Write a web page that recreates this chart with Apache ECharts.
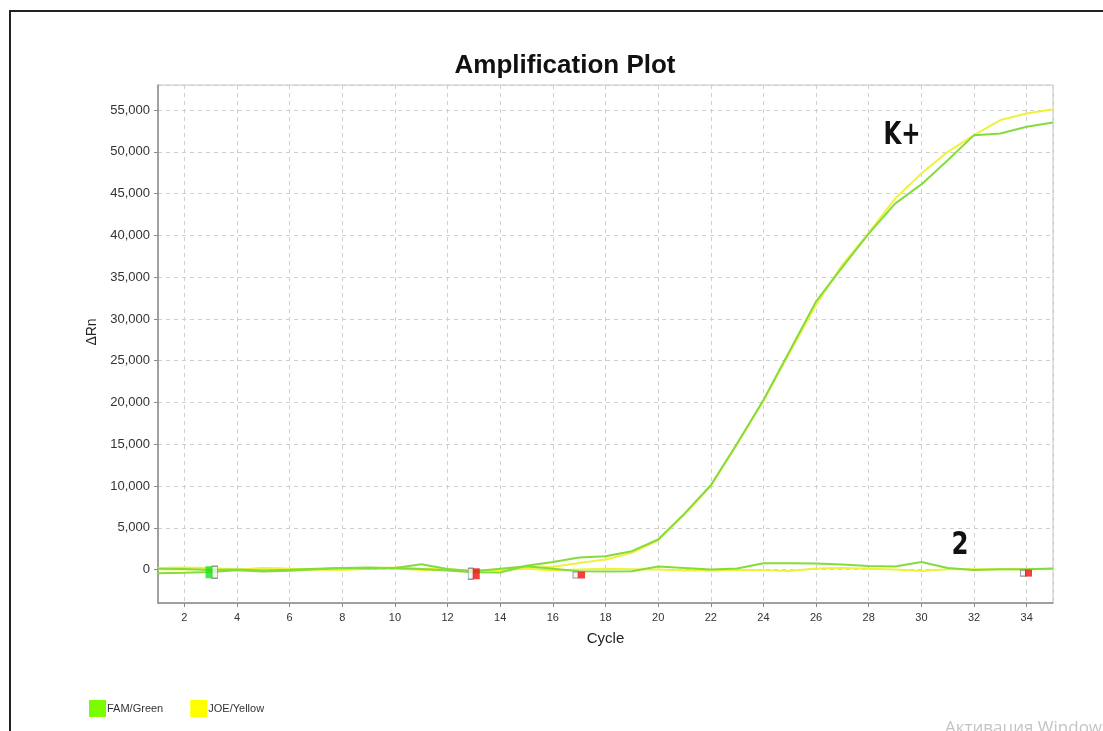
<!DOCTYPE html>
<html>
<head>
<meta charset="utf-8">
<title>Amplification Plot</title>
<script src="https://cdn.jsdelivr.net/npm/echarts@6/dist/echarts.min.js"></script>
<style>
  html, body { margin: 0; padding: 0; background: #ffffff; }
  #chart { width: 1103px; height: 731px; }
</style>
</head>
<body>
<div id="chart"></div>
<script>
// Cycle numbers of the run
const cycles = [1, 2, 3, 4, 5, 6, 7, 8, 9, 10, 11, 12, 13, 14, 15, 16, 17, 18,
  19, 20, 21, 22, 23, 24, 25, 26, 27, 28, 29, 30, 31, 32, 33, 34, 35];

// ΔRn per cycle: positive control (K+), FAM and JOE channels
const kPosFam = [-450, -380, -300, -80, -220, -150, 30, 200, 250, 150, 60, -100, -330, -350,
  450, 900, 1450, 1600, 2200, 3600, 6700, 10100, 15100, 20300, 26200, 32100, 36200, 40200,
  43800, 46100, 49000, 52000, 52200, 53000, 53500];
const kPosJoe = [200, 250, 180, 0, 150, 60, 0, 100, 200, 250, 100, 0, -100, -20,
  200, 350, 800, 1200, 2000, 3500, 6600, 10000, 15000, 20200, 26000, 31700, 36500, 40300,
  44400, 47400, 50000, 52000, 53800, 54600, 55100];

// ΔRn per cycle: sample 2, FAM and JOE channels
const s2Fam = [100, 60, -60, 0, -120, -20, 100, 180, 120, 200, 650, 60, -200, 100,
  400, 100, -200, -220, -200, 360, 200, 0, 120, 760, 760, 720, 620, 440,
  360, 900, 200, -40, 40, 40, 120];
const s2Joe = [50, 0, 60, -50, 200, 100, 0, -50, 100, 150, -50, 0, -150, -50,
  100, -100, 0, 100, 50, 0, -120, -100, -50, -80, -160, 120, 200, 100,
  0, -160, 50, 50, 50, 0, 100];

// Threshold-cycle markers [cycle, ΔRn]
const greenMarks = [[2.94, -320]];
const greyMarks = [[3.15, -320], [12.88, -500], [16.86, -650], [33.86, -420]];
const redMarks = [[13.09, -500], [17.09, -650], [34.07, -420]];

// Sample annotations
const sampleLabels = ['K+', '2'];

// Axis extents
const yRange = [-4000, 58000];
const xRange = [1, 35];

const greySizes = [[6, 12], [5, 11], [5, 6], [5, 6]];
const redSizes = [[7, 11], [7, 7], [7, 7]];

const FONT = '"Liberation Sans", Arial, sans-serif';
const GREEN = '#84dc3c';
const YELLOW = '#eef23a';

const pairs = arr => cycles.map((c, i) => [c, arr[i]]);

const chart = echarts.init(document.getElementById('chart'), null, { renderer: 'canvas' });

const lineSeries = (name, values, color) => ({
  name: name,
  type: 'line',
  data: pairs(values),
  showSymbol: false,
  symbol: 'none',
  smooth: false,
  lineStyle: { color: color, width: 2 },
  itemStyle: { color: color },
  z: 3
});

chart.setOption({
  animation: false,
  backgroundColor: '#ffffff',
  textStyle: { fontFamily: FONT },
  grid: {
    left: 158, right: 50, top: 85, bottom: 128,
    show: true, borderColor: '#c4c4c4', borderWidth: 1
  },
  legend: {
    left: 84, top: 695,
    icon: 'rect',
    itemWidth: 17, itemHeight: 17, itemGap: 27,
    selectedMode: false,
    textStyle: { fontSize: 11, color: '#333', fontFamily: FONT, padding: [0, 0, 0, -4] },
    data: [
      { name: 'FAM/Green', itemStyle: { color: '#7cfc00' } },
      { name: 'JOE/Yellow', itemStyle: { color: '#ffff00' } }
    ]
  },
  xAxis: {
    type: 'value',
    min: xRange[0], max: xRange[1],
    splitNumber: 17, minInterval: 2, maxInterval: 2,
    name: 'Cycle', nameLocation: 'middle', nameGap: 28,
    nameTextStyle: { fontSize: 15, color: '#222', fontFamily: FONT },
    axisLine: { show: true, onZero: false, lineStyle: { color: '#8c8c8c', width: 1.5 } },
    axisTick: { show: true, length: 4, lineStyle: { color: '#8c8c8c' } },
    axisLabel: { showMinLabel: false, showMaxLabel: false, margin: 9, fontSize: 11, color: '#333', fontFamily: FONT },
    splitLine: { show: true, lineStyle: { color: '#cfcfcf', type: [4, 4], width: 1 } }
  },
  yAxis: {
    type: 'value',
    min: yRange[0], max: yRange[1],
    splitNumber: 12, minInterval: 5000, maxInterval: 5000,
    name: 'ΔRn', nameLocation: 'middle', nameGap: 58, nameRotate: 90,
    nameTextStyle: { fontSize: 14, color: '#222', fontFamily: FONT, padding: [0, 0, 0, 24] },
    axisLine: { show: true, onZero: false, lineStyle: { color: '#8c8c8c', width: 1.5 } },
    axisTick: { show: true, length: 4, lineStyle: { color: '#8c8c8c' } },
    axisLabel: {
      showMinLabel: false, showMaxLabel: false, margin: 8, fontSize: 13, color: '#333', fontFamily: FONT,
      formatter: v => v.toLocaleString('en-US')
    },
    splitLine: { show: true, lineStyle: { color: '#cfcfcf', type: [4, 4], width: 1 } }
  },
  series: [
    lineSeries('JOE/Yellow', s2Joe, YELLOW),
    lineSeries('JOE/Yellow', kPosJoe, YELLOW),
    lineSeries('FAM/Green', s2Fam, GREEN),
    lineSeries('FAM/Green', kPosFam, GREEN),
    {
      type: 'scatter', data: greyMarks, symbol: 'rect',
      symbolSize: (v, p) => greySizes[p.dataIndex],
      itemStyle: { color: '#f2f2f2', borderColor: '#7d7d7d', borderWidth: 1 },
      z: 5, silent: true
    },
    {
      type: 'scatter', data: greenMarks, symbol: 'rect', symbolSize: [7, 12],
      itemStyle: { color: '#19e619' }, z: 6, silent: true
    },
    {
      type: 'scatter', data: redMarks, symbol: 'rect',
      symbolSize: (v, p) => redSizes[p.dataIndex],
      itemStyle: { color: '#ee1111' }, z: 6, silent: true
    }
  ],
  graphic: [
    {
      type: 'rect', silent: true, z: 100,
      shape: { x: 10, y: 11, width: 1300, height: 1000 },
      style: { fill: null, stroke: '#222', lineWidth: 2 }
    },
    {
      type: 'text', x: 565, y: 66, silent: true,
      style: { text: 'Amplification Plot', textAlign: 'center', textVerticalAlign: 'middle',
        font: 'bold 26px ' + FONT, fill: '#111' }
    },
    {
      type: 'text', x: 902, y: 136, silent: true, scaleX: 0.8,
      style: { text: sampleLabels[0], textAlign: 'center', textVerticalAlign: 'middle',
        font: 'bold 32px "Liberation Sans Narrow", "DejaVu Sans Condensed", sans-serif', fill: '#111' }
    },
    {
      type: 'text', x: 960, y: 546, silent: true, scaleX: 0.85,
      style: { text: sampleLabels[1], textAlign: 'center', textVerticalAlign: 'middle',
        font: 'bold 32px "Liberation Sans Narrow", "DejaVu Sans Condensed", sans-serif', fill: '#111' }
    },
    {
      type: 'text', x: 945, y: 720, silent: true,
      style: { text: 'Активация Windows', textAlign: 'left', textVerticalAlign: 'top',
        font: '17px "Open Sans", "Noto Sans", sans-serif', fill: '#c4c4c4' }
    }
  ]
});
</script>
</body>
</html>
